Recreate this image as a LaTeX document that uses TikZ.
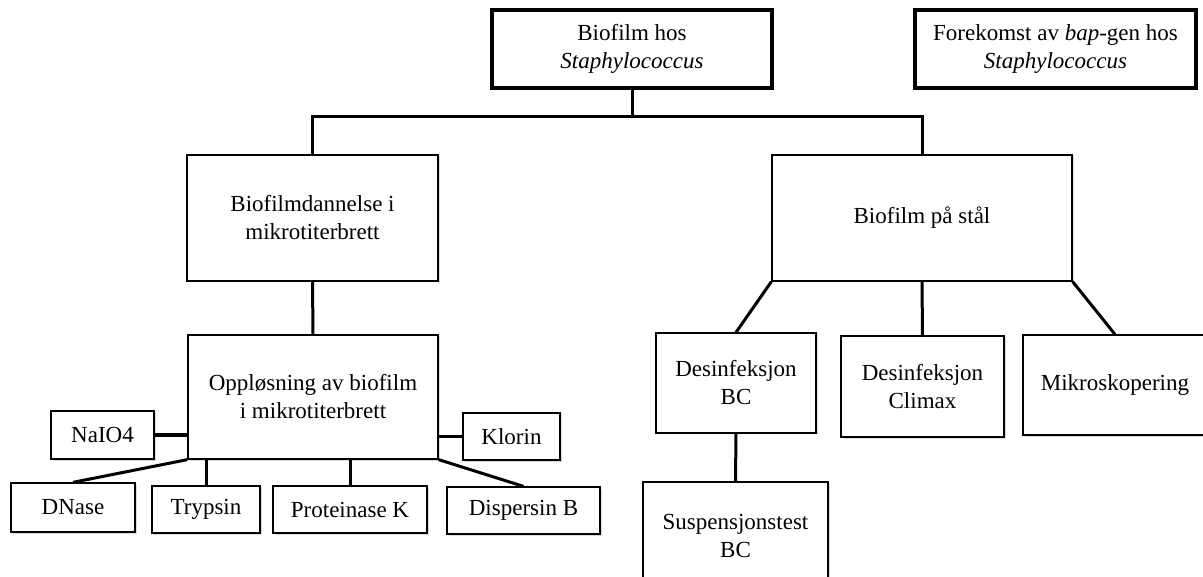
\documentclass[tikz,border=0pt]{standalone}
\usepackage{fontspec}
\setmainfont{Liberation Serif}
\usetikzlibrary{shadows}
\begin{document}
\begin{tikzpicture}[x=1pt,y=-1pt,
  box/.style={draw=black,line width=1.3pt,fill=white,inner sep=0pt,align=center,
    font=\fontsize{23}{28}\selectfont,
    drop shadow={shadow xshift=1.5pt,shadow yshift=-1.5pt,opacity=0.3,fill=gray}},
  topbox/.style={box,line width=3.2pt},
  conn/.style={draw=black,line width=3pt}]
\useasboundingbox (0,0) rectangle (1203,577);
% nodes
\node[topbox,minimum width=280pt,minimum height=78pt] (top) at (632,49) {Biofilm hos\\\textit{Staphylococcus}};
\node[topbox,minimum width=281pt,minimum height=78pt] (fore) at (1055.5,49) {Forekomst av \textit{bap}-gen hos\\\textit{Staphylococcus}};
\node[box,minimum width=251pt,minimum height=126pt] (dann) at (312.5,218) {Biofilmdannelse i\\mikrotiterbrett};
\node[box,minimum width=300pt,minimum height=126pt] (stal) at (922,218) {Biofilm på stål};
\node[box,minimum width=250pt,minimum height=124pt] (opp) at (313,397) {Oppløsning av biofilm\\i mikrotiterbrett};
\node[box,minimum width=103pt,minimum height=48pt] (nai) at (102.5,435) {NaIO4};
\node[box,minimum width=97pt,minimum height=47pt] (klo) at (511.5,436.5) {Klorin};
\node[box,minimum width=124pt,minimum height=49pt] (dna) at (73,507.5) {DNase};
\node[box,minimum width=108pt,minimum height=47pt] (try) at (206,509.5) {Trypsin};
\node[box,minimum width=154pt,minimum height=47pt] (pro) at (350,509.5) {Proteinase K};
\node[box,minimum width=153pt,minimum height=47pt] (dis) at (523.5,510.5) {Dispersin B};
\node[box,minimum width=160pt,minimum height=100pt] (dbc) at (736,383) {Desinfeksjon\\BC};
\node[box,minimum width=163pt,minimum height=101pt] (cli) at (922.5,386.5) {Desinfeksjon\\Climax};
\node[box,minimum width=184pt,minimum height=100pt] (mik) at (1115,385) {Mikroskopering};
\node[box,minimum width=185pt,minimum height=108pt] (sus) at (735.5,536) {Suspensjonstest\\BC};
\coordinate (j) at (632,117);
% connectors
\draw[conn] (top.south) -- (j);
\draw[conn] (dann.north) |- (j) -| (stal.north);
\draw[conn] (dann.south) -- (opp.north);
\draw[conn] (nai.east) -- (nai.east -| opp.west);
\draw[conn] (klo.west) -- (klo.west -| opp.east);
\draw[conn] (opp.south west) -- (dna.north);
\draw[conn] (try.north) -- (try.north |- opp.south);
\draw[conn] (pro.north) -- (pro.north |- opp.south);
\draw[conn] (opp.south east) -- (dis.north);
\draw[conn] (stal.south west) -- (dbc.north);
\draw[conn] (stal.south) -- (cli.north);
\draw[conn] (stal.south east) -- (mik.north);
\draw[conn] (dbc.south) -- (sus.north);
\end{tikzpicture}
\end{document}
